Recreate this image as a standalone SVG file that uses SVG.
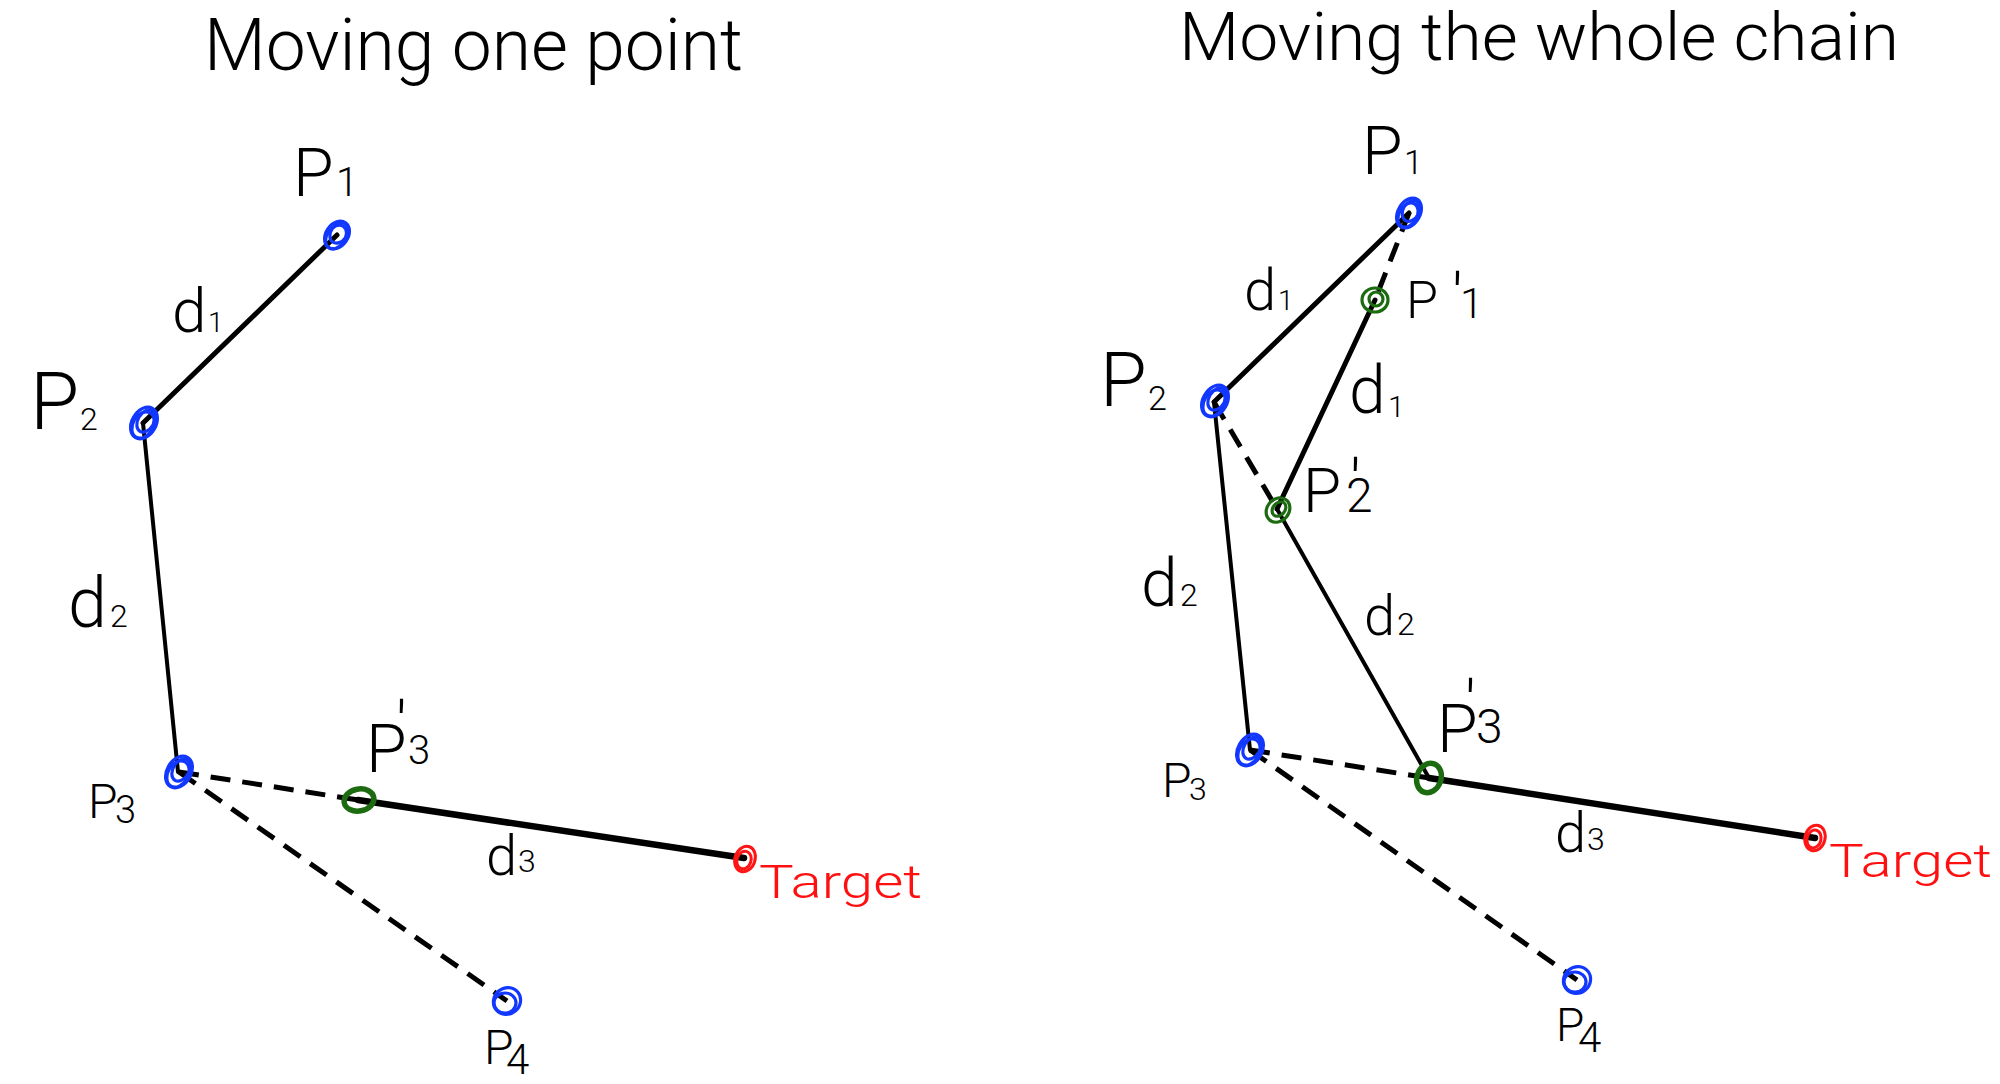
<svg xmlns="http://www.w3.org/2000/svg" width="2000" height="1084" viewBox="0 0 2000 1084">
<style>
text{font-family:Roboto,"Liberation Sans","DejaVu Sans",sans-serif;font-weight:300;fill:#000}
.title{font-size:72px}
.pr{font-size:64px}
.ln{stroke:#000;stroke-linecap:round;fill:none}
.s4{stroke-width:4}
.s5{stroke-width:5}
.s6{stroke-width:6.5}
.dash{stroke-dasharray:20 12;stroke-linecap:butt}
.mb{fill:none;stroke:#1238ff;stroke-width:3.2}
.mg{fill:none;stroke:#1c6b10;stroke-width:3.2}
.mgt{fill:none;stroke:#1c6b10;stroke-width:5.5}
.mr{fill:none;stroke:#ff1515;stroke-width:3}
</style>
<rect width="2000" height="1084" fill="#fff"/>

<g id="titles">
<text class="title" x="204" y="70" textLength="539" lengthAdjust="spacingAndGlyphs">Moving one point</text>
<text x="1179" y="60" textLength="720" lengthAdjust="spacingAndGlyphs" style="font-size:66px">Moving the whole chain</text>
</g>

<g id="connectors">
<line class="ln s5" x1="337" y1="235" x2="143" y2="423"/>
<line class="ln s4" x1="143" y1="423" x2="178" y2="772"/>
<line class="ln s5 dash" x1="179" y1="772" x2="358" y2="800"/>
<line class="ln s6" x1="358" y1="800" x2="744" y2="858"/>
<line class="ln s5 dash" x1="179" y1="772" x2="507" y2="1001"/>
<line class="ln s5" x1="1409" y1="213" x2="1214" y2="402"/>
<line class="ln s5 dash" x1="1409" y1="213" x2="1375" y2="300"/>
<line class="ln s5" x1="1375" y1="300" x2="1277" y2="509"/>
<line class="ln s5 dash" x1="1214" y1="402" x2="1277" y2="509"/>
<line class="ln s4" x1="1214" y1="402" x2="1250" y2="750"/>
<line class="ln s4" x1="1277" y1="509" x2="1429" y2="778"/>
<line class="ln s5 dash" x1="1250" y1="750" x2="1429" y2="778"/>
<line class="ln s6" x1="1429" y1="778" x2="1815" y2="838"/>
<line class="ln s5 dash" x1="1250" y1="750" x2="1577" y2="980"/>
</g>

<!-- LEFT PANEL NODES -->
<g id="L-P1">
<ellipse class="mb" cx="337" cy="235" rx="15" ry="11" transform="rotate(-55 337 235)"/>
<ellipse class="mb" cx="339" cy="233" rx="11" ry="8" transform="rotate(-55 339 233)"/>
<ellipse class="mb" cx="336" cy="237" rx="13" ry="9" transform="rotate(-55 336 237)"/>
<text x="293" y="196" style="font-size:66px">P<tspan x="336" y="196" style="font-size:40px">1</tspan></text>
</g>
<g id="L-P2">
<ellipse class="mb" cx="144" cy="423" rx="17" ry="12" transform="rotate(-60 144 423)"/>
<ellipse class="mb" cx="146" cy="421" rx="12" ry="8" transform="rotate(-60 146 421)"/>
<ellipse class="mb" cx="143" cy="425" rx="14" ry="10" transform="rotate(-60 143 425)"/>
<text x="30" y="429" style="font-size:80px">P<tspan x="80" y="430" style="font-size:32px">2</tspan></text>
</g>
<g id="L-P3">
<ellipse class="mb" cx="179" cy="772" rx="17" ry="12" transform="rotate(-60 179 772)"/>
<ellipse class="mb" cx="181" cy="770" rx="12" ry="8" transform="rotate(-60 181 770)"/>
<ellipse class="mb" cx="178" cy="774" rx="14" ry="10" transform="rotate(-60 178 774)"/>
<text x="88" y="818" style="font-size:48px">P<tspan x="115" y="823" style="font-size:38px">3</tspan></text>
</g>
<g id="L-P3p">
<ellipse class="mgt" cx="359" cy="800" rx="15" ry="11" transform="rotate(-10 359 800)"/>
<text x="366" y="772" style="font-size:66px">P<tspan class="pr" x="396" y="748">'</tspan><tspan x="408" y="764" style="font-size:40px">3</tspan></text>
</g>
<g id="L-Target">
<ellipse class="mr" cx="745" cy="859" rx="10" ry="13" transform="rotate(20 745 859)"/>
<ellipse class="mr" cx="744" cy="860" rx="7" ry="9" transform="rotate(20 744 860)"/>
<text x="759" y="898" style="font-size:46px;fill:#ff1010" textLength="163" lengthAdjust="spacingAndGlyphs">Target</text>
</g>
<g id="L-P4">
<ellipse class="mb" cx="507" cy="1001" rx="14" ry="13" transform="rotate(-40 507 1001)"/>
<ellipse class="mb" cx="505" cy="1003" rx="11" ry="10"/>
<text x="484" y="1064" style="font-size:48px">P<tspan x="506" y="1074" style="font-size:42px">4</tspan></text>
</g>
<g id="L-d">
<text x="172" y="332" style="font-size:62px">d<tspan x="208" y="332" style="font-size:28px">1</tspan></text>
<text x="68" y="627" style="font-size:70px">d<tspan x="110" y="627" style="font-size:32px">2</tspan></text>
<text x="486" y="875" style="font-size:56px">d<tspan x="518" y="872" style="font-size:32px">3</tspan></text>
</g>

<!-- RIGHT PANEL NODES -->
<g id="R-P1">
<ellipse class="mb" cx="1409" cy="213" rx="16" ry="11" transform="rotate(-60 1409 213)"/>
<ellipse class="mb" cx="1411" cy="211" rx="11" ry="8" transform="rotate(-60 1411 211)"/>
<ellipse class="mb" cx="1408" cy="215" rx="13" ry="9" transform="rotate(-60 1408 215)"/>
<text x="1362" y="174" style="font-size:66px">P<tspan x="1404" y="174" style="font-size:34px">1</tspan></text>
</g>
<g id="R-P1p">
<ellipse class="mg" cx="1375" cy="300" rx="13" ry="12"/>
<ellipse class="mg" cx="1376" cy="299" rx="7" ry="7"/>
<text x="1406" y="318" style="font-size:52px">P<tspan class="pr" x="1452" y="320">'</tspan><tspan x="1460" y="318" style="font-size:42px">1</tspan></text>
</g>
<g id="R-P2">
<ellipse class="mb" cx="1215" cy="401" rx="17" ry="12" transform="rotate(-60 1215 401)"/>
<ellipse class="mb" cx="1217" cy="399" rx="12" ry="8" transform="rotate(-60 1217 399)"/>
<ellipse class="mb" cx="1214" cy="403" rx="14" ry="10" transform="rotate(-60 1214 403)"/>
<text x="1100" y="406" style="font-size:76px">P<tspan x="1148" y="410" style="font-size:34px">2</tspan></text>
</g>
<g id="R-P2p">
<ellipse class="mg" cx="1278" cy="510" rx="13" ry="11" transform="rotate(-50 1278 510)"/>
<ellipse class="mg" cx="1279" cy="509" rx="8" ry="6" transform="rotate(-50 1279 509)"/>
<text x="1303" y="512" style="font-size:62px">P<tspan class="pr" x="1350" y="506">'</tspan><tspan x="1346" y="512" style="font-size:48px">2</tspan></text>
</g>
<g id="R-P3">
<ellipse class="mb" cx="1250" cy="750" rx="17" ry="12" transform="rotate(-60 1250 750)"/>
<ellipse class="mb" cx="1252" cy="748" rx="12" ry="8" transform="rotate(-60 1252 748)"/>
<ellipse class="mb" cx="1249" cy="752" rx="14" ry="10" transform="rotate(-60 1249 752)"/>
<text x="1162" y="797" style="font-size:48px">P<tspan x="1189" y="800" style="font-size:32px">3</tspan></text>
</g>
<g id="R-P3p">
<ellipse class="mgt" cx="1429" cy="778" rx="15" ry="12" transform="rotate(-70 1429 778)"/>
<text x="1437" y="752" style="font-size:66px">P<tspan class="pr" x="1465" y="727">'</tspan><tspan x="1476" y="743" style="font-size:48px">3</tspan></text>
</g>
<g id="R-Target">
<ellipse class="mr" cx="1815" cy="838" rx="10" ry="13" transform="rotate(15 1815 838)"/>
<ellipse class="mr" cx="1814" cy="839" rx="7" ry="9" transform="rotate(15 1814 839)"/>
<text x="1829" y="877" style="font-size:46px;fill:#ff1010" textLength="163" lengthAdjust="spacingAndGlyphs">Target</text>
</g>
<g id="R-P4">
<ellipse class="mb" cx="1577" cy="980" rx="14" ry="13" transform="rotate(-40 1577 980)"/>
<ellipse class="mb" cx="1575" cy="982" rx="11" ry="10"/>
<text x="1556" y="1041" style="font-size:46px">P<tspan x="1578" y="1052" style="font-size:42px">4</tspan></text>
</g>
<g id="R-d">
<text x="1244" y="310" style="font-size:58px">d<tspan x="1278" y="310" style="font-size:28px">1</tspan></text>
<text x="1349" y="413" style="font-size:66px">d<tspan x="1388" y="417" style="font-size:30px">1</tspan></text>
<text x="1141" y="606" style="font-size:66px">d<tspan x="1180" y="606" style="font-size:32px">2</tspan></text>
<text x="1364" y="635" style="font-size:56px">d<tspan x="1397" y="635" style="font-size:32px">2</tspan></text>
<text x="1555" y="852" style="font-size:56px">d<tspan x="1587" y="850" style="font-size:32px">3</tspan></text>
</g>
</svg>
